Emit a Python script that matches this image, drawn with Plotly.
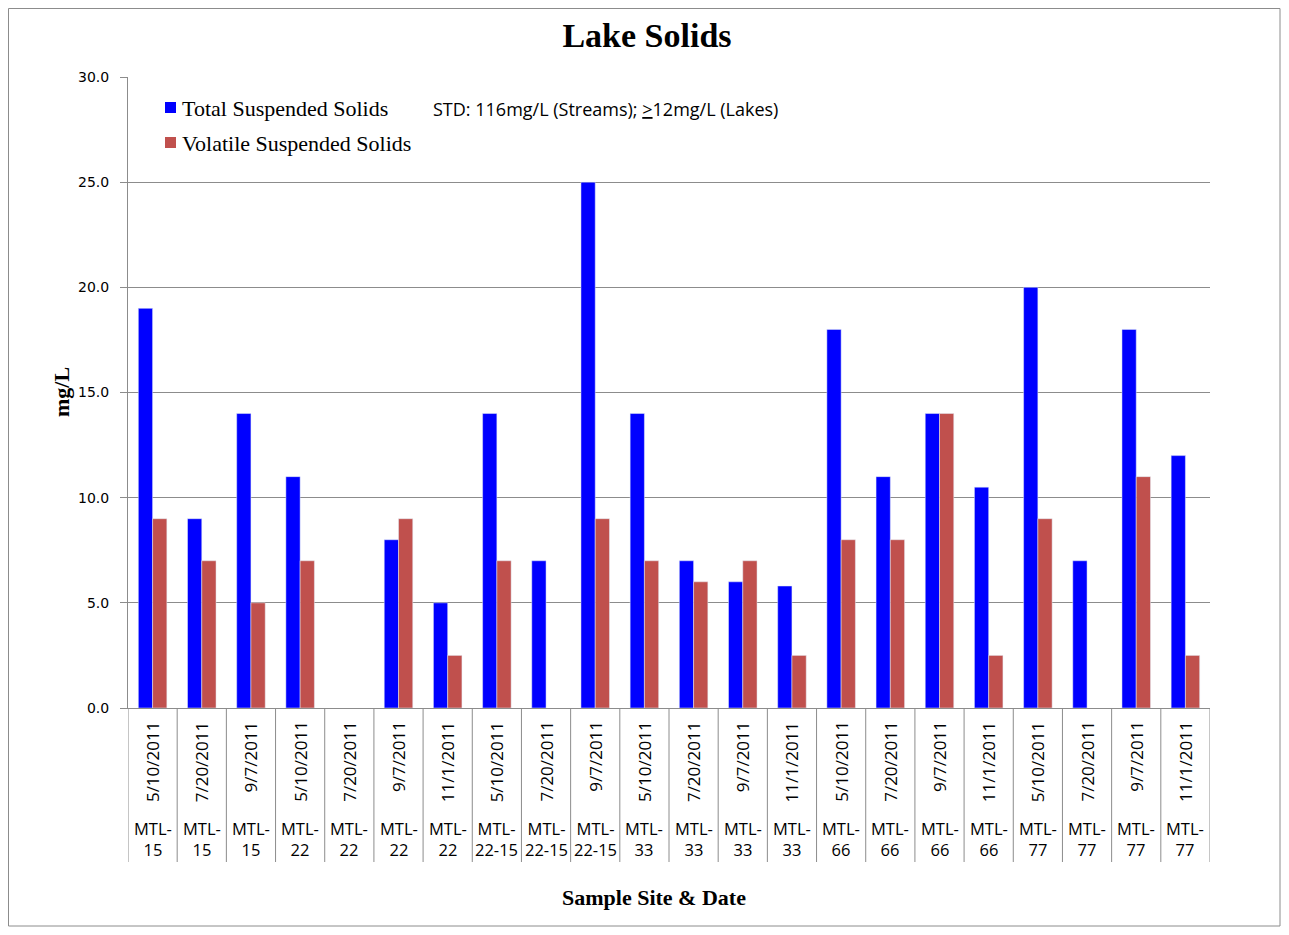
import plotly.graph_objects as go

# sample dates and sites (two-level category axis)
dates = ['5/10/2011', '7/20/2011', '9/7/2011', '5/10/2011', '7/20/2011', '9/7/2011',
         '11/1/2011', '5/10/2011', '7/20/2011', '9/7/2011', '5/10/2011', '7/20/2011',
         '9/7/2011', '11/1/2011', '5/10/2011', '7/20/2011', '9/7/2011', '11/1/2011',
         '5/10/2011', '7/20/2011', '9/7/2011', '11/1/2011']
sites = ['15', '15', '15', '22', '22', '22', '22', '22-15', '22-15', '22-15', '33', '33',
         '33', '33', '66', '66', '66', '66', '77', '77', '77', '77']

tss = [19, 9, 14, 11, None, 8, 5, 14, 7, 25, 14, 7, 6, 5.8, 18, 11, 14, 10.5, 20, 7, 18, 12]
vss = [9, 7, 5, 7, None, 9, 2.5, 7, None, 9, 7, 6, 7, 2.5, 8, 8, 14, 2.5, 9, None, 11, 2.5]

names = ['Total Suspended Solids', 'Volatile Suspended Solids']
colors = ['#0000FF', '#C0504D']

n = len(dates)
xs = list(range(n))

# page is drawn with an 8px body margin, so figure coords = page coords - 8
OFF = 8
W, H = 1289 - 2 * OFF, 935 - 2 * OFF
# plot area in page pixels
L, R, T, B = 128, 1210, 77, 708

def py(p):
    return (B - p) / (B - T)

def px_(p):
    return (p - L) / (R - L)

fig = go.Figure()
for name, vals, col in zip(names, [tss, vss], colors):
    fig.add_trace(go.Bar(x=xs, y=vals, name=name, marker_color=col, showlegend=False))

grid = '#8c8c8c'
shapes = []
# category dividers below the axis
for i in range(n + 1):
    shapes.append(dict(type='line', xref='x', yref='paper', x0=i - 0.5, x1=i - 0.5,
                       y0=0, y1=py(862), line=dict(color=grid, width=1)))
# outer chart border
shapes.append(dict(type='rect', xref='paper', yref='paper', x0=px_(8.5), x1=px_(1280),
                   y0=py(8.5), y1=py(926), line=dict(color='#8c8c8c', width=1)))

annotations = []
# legend drawn by hand so the swatch sits close to the text
for k, (name, col) in enumerate(zip(names, colors)):
    yc = 108 + 35 * k
    shapes.append(dict(type='rect', xref='paper', yref='paper', x0=px_(165), x1=px_(176),
                       y0=py(yc - 6), y1=py(yc + 5), fillcolor=col, line=dict(width=0)))
    annotations.append(dict(x=px_(180), y=py(yc), xref='paper', yref='paper', text=name,
                            showarrow=False, xanchor='left', yanchor='middle',
                            font=dict(family='Liberation Serif', size=22, color='black')))

for i in range(n):
    annotations.append(dict(x=i, y=py(719), xref='x', yref='paper', text=dates[i],
                            textangle=-90, showarrow=False, xanchor='center', yanchor='top',
                            font=dict(family='Open Sans', size=17, color='black')))
    annotations.append(dict(x=i, y=py(839), xref='x', yref='paper', text='MTL-<br>' + sites[i],
                            showarrow=False, xanchor='center', yanchor='middle',
                            font=dict(family='Open Sans', size=16.5, color='black')))

annotations.append(dict(x=px_(431), y=py(109), xref='paper', yref='paper',
                        text='STD: 116mg/L (Streams); <u>></u>12mg/L (Lakes)',
                        showarrow=False, xanchor='left', yanchor='middle',
                        font=dict(family='Open Sans', size=18, color='black')))
annotations.append(dict(x=px_(654), y=py(898), xref='paper', yref='paper',
                        text='<b>Sample Site & Date</b>', showarrow=False,
                        xanchor='center', yanchor='middle',
                        font=dict(family='Liberation Serif', size=22, color='black')))
annotations.append(dict(x=px_(61), y=py(392), xref='paper', yref='paper',
                        text='<b>mg/L</b>', textangle=-90, showarrow=False,
                        xanchor='center', yanchor='middle',
                        font=dict(family='Liberation Serif', size=22, color='black')))

fig.update_layout(
    width=W, height=H,
    margin=dict(l=L - OFF, r=W - (R - OFF), t=T - OFF, b=H - (B - OFF)),
    paper_bgcolor='white', plot_bgcolor='white',
    title=dict(text='<b>Lake Solids</b>', x=(647 - OFF) / W, xanchor='center',
               y=1 - (35 - OFF) / H, yanchor='middle',
               font=dict(family='Liberation Serif', size=34, color='black')),
    barmode='group', bargap=0.42, bargroupgap=0,
    showlegend=False,
    shapes=shapes,
    annotations=annotations,
    xaxis=dict(range=[-0.5, n - 0.5], showticklabels=False, showgrid=False,
               showline=True, linecolor=grid, ticks='', zeroline=False),
    yaxis=dict(range=[0, 30], dtick=5, tickformat='.1f', showgrid=True, gridcolor=grid,
               showline=True, linecolor=grid, ticks='outside', ticklen=7, tickcolor=grid,
               ticklabelstandoff=8, zeroline=False,
               tickfont=dict(family='DejaVu Sans', size=14, color='black')),
)

fig.write_html('out.html')
